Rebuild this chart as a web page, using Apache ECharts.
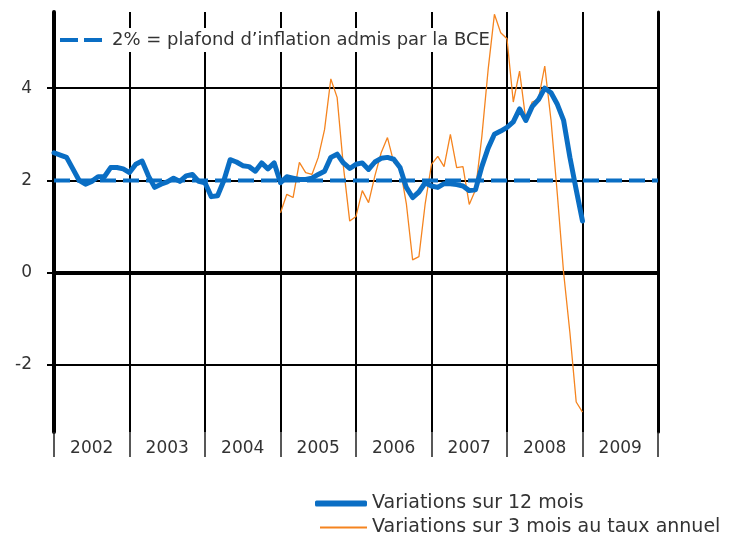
<!DOCTYPE html>
<html>
<head>
<meta charset="utf-8">
<script src="https://cdn.jsdelivr.net/npm/echarts@6/dist/echarts.min.js"></script>
<style>
  html, body { margin: 0; padding: 0; background: #fff; }
  #chart { width: 730px; height: 538px; }
</style>
</head>
<body>
<div id="chart"></div>
<script>
// années (étiquettes de l'axe horizontal)
var years = ['2002', '2003', '2004', '2005', '2006', '2007', '2008', '2009'];

// glissement sur 12 mois, mensuel, janv. 2002 -> janv. 2009
var var12m = [
  2.6, 2.55, 2.5, 2.25, 2.0, 1.92, 1.98, 2.08, 2.08, 2.28, 2.28, 2.25,
  2.17, 2.35, 2.42, 2.1, 1.85, 1.92, 1.97, 2.05, 1.98, 2.1, 2.13, 1.98,
  1.95, 1.65, 1.67, 2.0, 2.45, 2.4, 2.32, 2.3, 2.2, 2.38, 2.25, 2.38,
  1.95, 2.08, 2.05, 2.02, 2.02, 2.05, 2.13, 2.2, 2.5, 2.57, 2.38, 2.26,
  2.35, 2.38, 2.24, 2.4, 2.48, 2.5, 2.46, 2.28, 1.85, 1.63, 1.75, 1.95,
  1.88, 1.85, 1.93, 1.93, 1.91, 1.88, 1.78, 1.8, 2.3, 2.7, 3.0, 3.07,
  3.15, 3.27, 3.55, 3.3, 3.6, 3.75, 4.0, 3.9, 3.65, 3.3, 2.5, 1.8,
  1.12
];

// variations sur 3 mois au taux annuel, janv. 2005 -> janv. 2009
var var3m = [
  1.3, 1.7, 1.63, 2.39, 2.17, 2.13, 2.5, 3.1, 4.2, 3.8, 2.3, 1.12,
  1.22, 1.78, 1.52, 2.1, 2.6, 2.93, 2.39, 2.28, 1.5, 0.28, 0.35, 1.5,
  2.35, 2.52, 2.3, 3.0, 2.28, 2.3, 1.48, 1.8, 2.95, 4.4, 5.6, 5.2,
  5.07, 3.7, 4.37, 3.3, 3.7, 3.76, 4.48, 3.3, 1.7, 0.0, -1.3, -2.8,
  -3.02
];
var start12m = 0;   // janv. 2002
var start3m = 36;   // janv. 2005

// plafond BCE
var plafond = [2, 2];
var plafondMois = [0, 96];

var yTicks = [-2, 0, 2, 4];

function toPoints(values, start) {
  return values.map(function(v, k) { return [start + k, v]; });
}

var nom12 = 'Variations sur 12 mois';
var nom3 = 'Variations sur 3 mois au taux annuel';
var nomBce = '2% = plafond d\u2019inflation admis par la BCE';

var bleu = '#0a6ec4';
var orange = '#f5841f';
var police = '"DejaVu Sans", sans-serif';
var texteBas = { fontFamily: police, fontSize: 19, color: '#333' };

var myChart = echarts.init(document.getElementById('chart'));
var option = {
  animation: false,
  textStyle: { fontFamily: police },
  grid: {
    left: 54,
    right: 72,
    top: 12,
    bottom: 106
  },
  legend: [{
    data: [nomBce],
    icon: 'path://M0,0H18V4H0Z M24,0H42V4H24Z',
    left: 57,
    top: 28,
    z: 1,
    padding: [3, 1, 3, 3],
    backgroundColor: '#fff',
    itemWidth: 42,
    itemHeight: 4,
    textStyle: { fontFamily: police, fontSize: 18, color: '#333', padding: [0, 0, 0, 5] }
  }, {
    data: [nom12],
    icon: 'roundRect',
    left: 315,
    top: 494,
    padding: 0,
    itemWidth: 52,
    itemHeight: 6,
    textStyle: texteBas
  }, {
    data: [nom3],
    icon: 'rect',
    left: 320,
    top: 518,
    padding: 0,
    itemWidth: 47,
    itemHeight: 2,
    textStyle: texteBas
  }],
  xAxis: [{
    type: 'value',
    min: 0,
    max: 96,
    interval: 12,
    axisLine: { onZero: true, lineStyle: { color: '#000', width: 4 } },
    axisTick: { show: false },
    axisLabel: { show: false },
    splitLine: { show: true, lineStyle: { color: '#000', width: 2 } }
  }, {
    type: 'category',
    data: years,
    boundaryGap: true,
    position: 'bottom',
    axisLine: { show: false, onZero: false },
    axisTick: { show: true, length: 25, lineStyle: { color: '#222', width: 1.5 } },
    axisLabel: { margin: 8, fontSize: 17, color: '#333', fontFamily: police },
    splitLine: { show: false }
  }],
  yAxis: [{
    type: 'value',
    min: -3.45,
    max: 5.65,
    axisLine: { show: true, lineStyle: { color: '#000', width: 4 } },
    axisTick: { show: true, customValues: yTicks, length: 7, lineStyle: { color: '#000', width: 2 } },
    axisLabel: { customValues: yTicks, margin: 22, fontSize: 17, color: '#333', fontFamily: police },
    splitLine: { show: true, lineStyle: { color: '#000', width: 2 } }
  }, {
    type: 'value',
    position: 'right',
    min: -3.45,
    max: 5.65,
    axisLine: { show: true, lineStyle: { color: '#000', width: 3 } },
    axisTick: { show: false },
    axisLabel: { show: false },
    splitLine: { show: false }
  }],
  series: [{
    name: nom3,
    type: 'line',
    symbol: 'none',
    xAxisIndex: 0,
    yAxisIndex: 0,
    lineStyle: { color: orange, width: 1.3 },
    itemStyle: { color: orange },
    data: toPoints(var3m, start3m),
    z: 2
  }, {
    name: nom12,
    type: 'line',
    symbol: 'none',
    xAxisIndex: 0,
    yAxisIndex: 0,
    lineStyle: { color: bleu, width: 5, join: 'round', cap: 'round' },
    itemStyle: { color: bleu },
    data: toPoints(var12m, start12m),
    z: 3
  }, {
    name: nomBce,
    type: 'line',
    symbol: 'none',
    xAxisIndex: 0,
    yAxisIndex: 0,
    lineStyle: { color: bleu, width: 4, type: [16, 7] },
    itemStyle: { color: bleu },
    data: plafondMois.map(function(m, k) { return [m, plafond[k]]; }),
    z: 4
  }]
};
myChart.setOption(option);
</script>
</body>
</html>
